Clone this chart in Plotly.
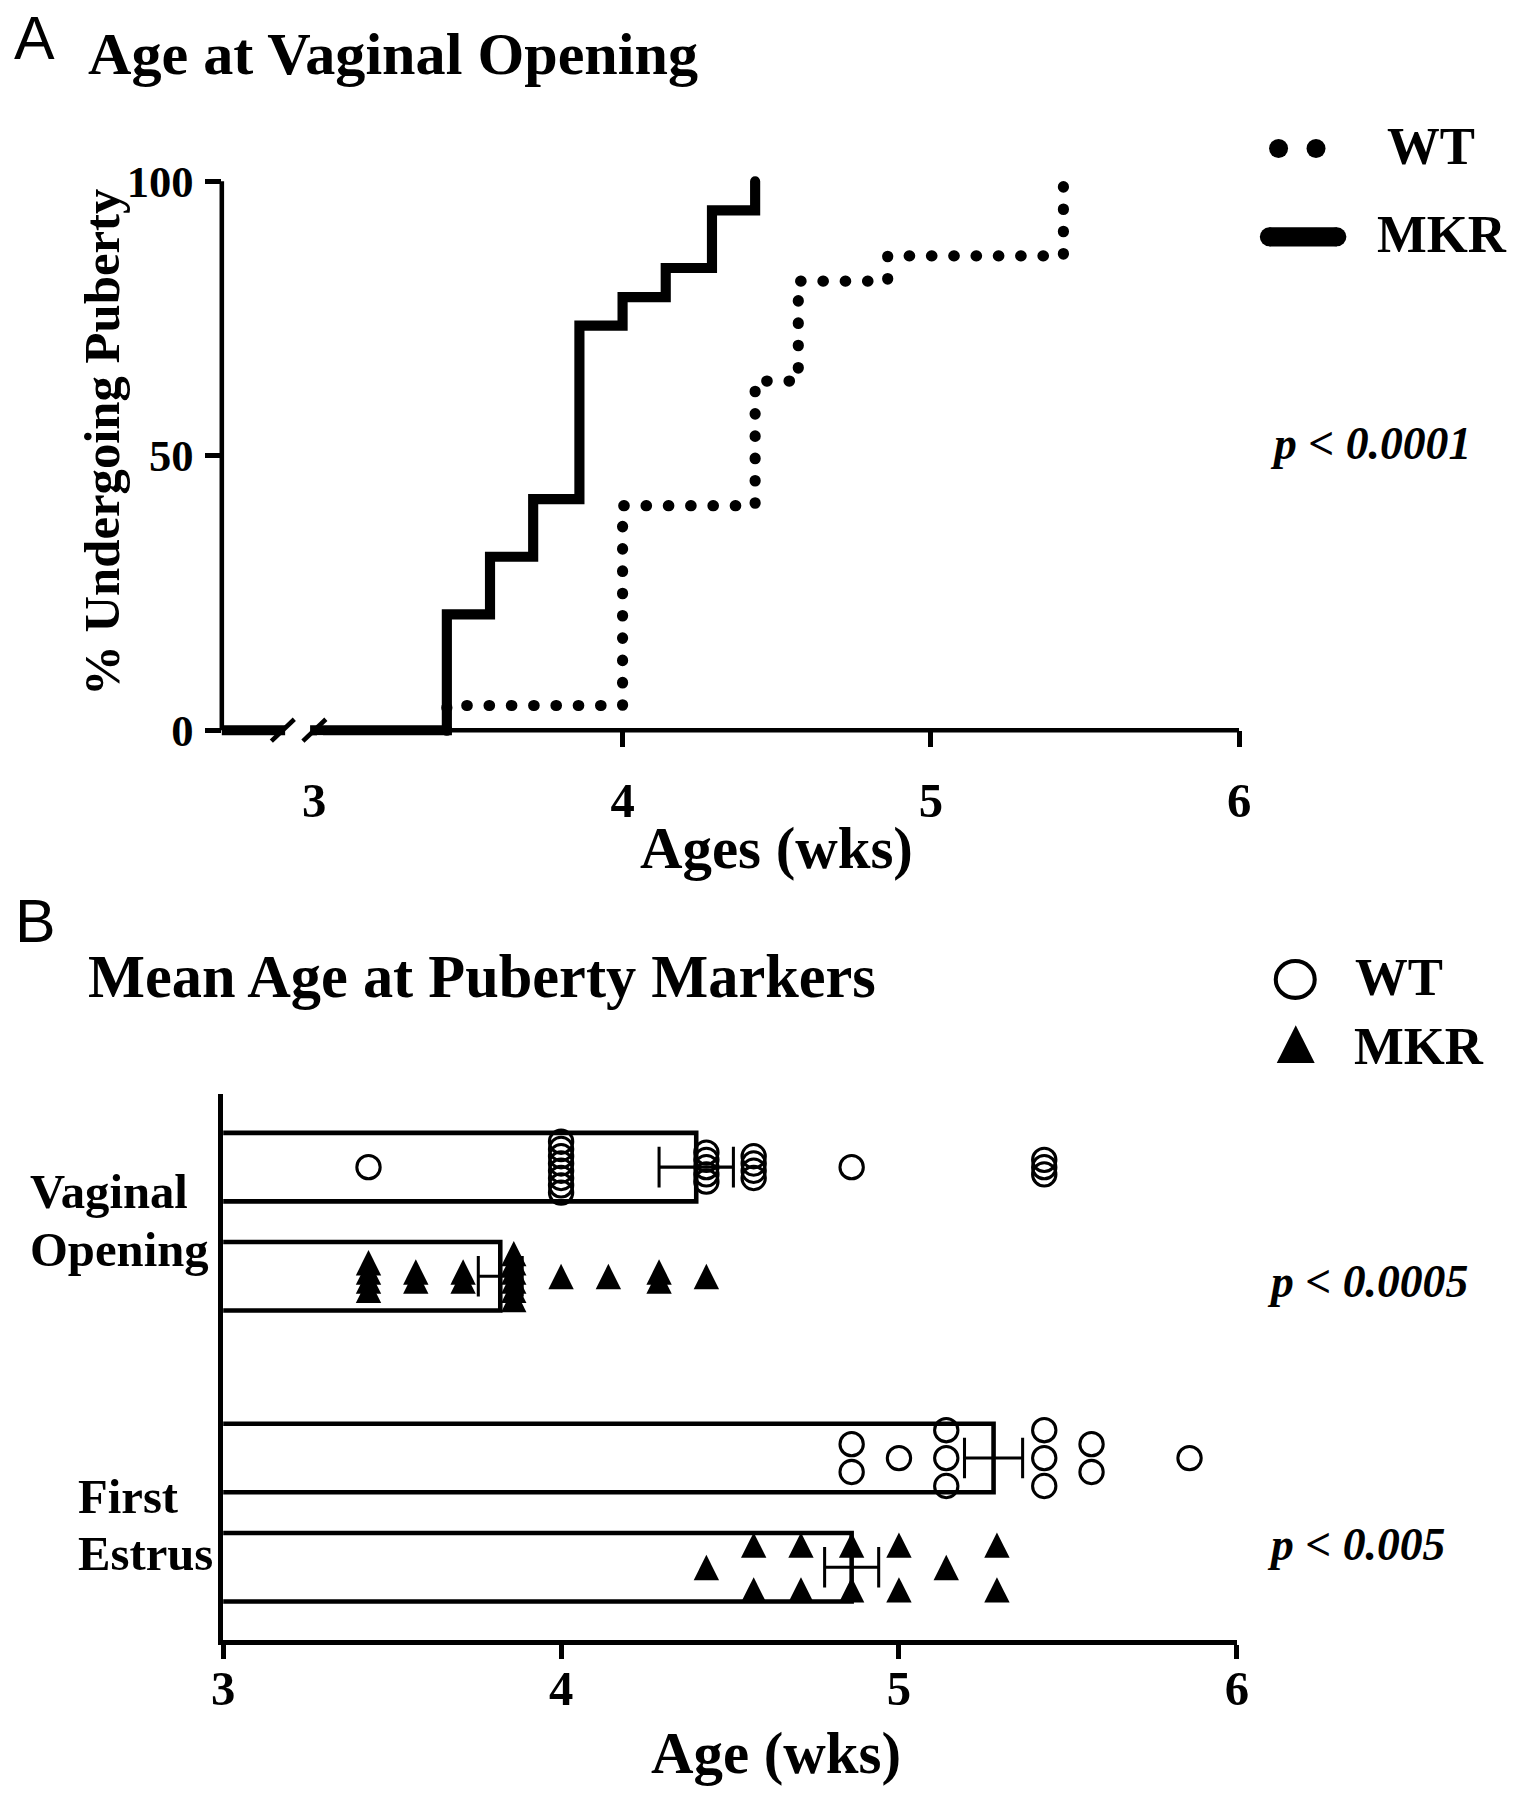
import plotly.graph_objects as go

# ---------------- data ----------------
# Panel A: cumulative % undergoing puberty (vaginal opening), step curves
km_mkr_weeks = [2.7, 3.43, 3.57, 3.71, 3.86, 4.00, 4.14, 4.29, 4.43]
km_mkr_pct = [0, 21.1, 31.6, 42.1, 73.7, 78.9, 84.2, 94.7, 100]
km_wt_weeks = [3.43, 3.43, 4.00, 4.43, 4.57, 4.86, 5.43]
km_wt_pct = [0, 4.5, 40.9, 63.6, 81.8, 86.4, 100]
p_value_a = "p < 0.0001"

# Panel B: individual ages (weeks), bar means and SEM
wt_vo_ages = [3.43, 4.00, 4.00, 4.00, 4.00, 4.00, 4.00, 4.00, 4.00,
              4.43, 4.43, 4.43, 4.43, 4.43, 4.57, 4.57, 4.57, 4.57,
              4.86, 5.43, 5.43, 5.43]
mkr_vo_ages = [3.43, 3.43, 3.43, 3.43, 3.57, 3.57, 3.71, 3.71,
               3.86, 3.86, 3.86, 3.86, 3.86, 3.86, 4.00, 4.14, 4.29, 4.29, 4.43]
wt_fe_ages = [4.86, 4.86, 5.00, 5.14, 5.14, 5.14, 5.43, 5.43, 5.43, 5.57, 5.57, 5.86]
mkr_fe_ages = [4.43, 4.57, 4.57, 4.71, 4.71, 4.86, 4.86, 5.00, 5.00, 5.14, 5.29, 5.29]
wt_means = [4.40, 5.28]      # Vaginal Opening, First Estrus
mkr_means = [3.82, 4.86]
wt_sem = [0.11, 0.086]
mkr_sem = [0.065, 0.08]
p_values_b = ["p < 0.0005", "p < 0.005"]
category_lines = [["Vaginal", "Opening"], ["First", "Estrus"]]
group_names = ["WT", "MKR"]
ticks_a_x = [3, 4, 5, 6]
ticks_a_y = [0, 50, 100]
ticks_b_x = [3, 4, 5, 6]

# ---------------- geometry ----------------
# Positions below are given in picture pixels; the page is shown slightly
# shrunk with a small border, so convert picture pixels to page pixels.
W, H = 1515, 1800
S_IMG, OFF_X, OFF_Y = 0.9855, 10.5, 12.8
K = 1 / S_IMG
SERIF = "Liberation Serif"
SANS = "Liberation Sans"


def page_x(t):
    return (t - OFF_X) / S_IMG


def page_y(t):
    return (t - OFF_Y) / S_IMG


def px(t):
    return page_x(t) / W


def py(t):
    return 1 - page_y(t) / H


# panel A plot area
A_X0, A_X1 = 220.6, 1239.3
A_RANGE_X = [2.7, 6]
A_ZERO, A_HUND = 729.8, 178.7
A_PPU = (page_y(A_ZERO) - page_y(A_HUND)) / 100.0
A_RANGE_Y = [-1.5, 101.5]
A_BOT = page_y(A_ZERO) - A_RANGE_Y[0] * A_PPU
A_TOP = page_y(A_ZERO) - A_RANGE_Y[1] * A_PPU

# panel B plot area
B_X0, B_X1 = 222, 1237
B_BOT, B_TOP = 1643, 1095
B_RANGE_Y = [0, 10]
B_PPU = (page_y(B_BOT) - page_y(B_TOP)) / (B_RANGE_Y[1] - B_RANGE_Y[0])
row_wt = [8.66, 3.33]
row_mkr = [6.66, 1.33]
BAR_W = 1.255

fig = go.Figure()

# ---------------- panel A traces ----------------
fig.add_trace(go.Scatter(
    x=km_wt_weeks, y=km_wt_pct, mode="lines", line_shape="hv",
    line=dict(color="black", width=11 * K, dash="0.5px,21.8px"),
    name="WT", showlegend=False, xaxis="x", yaxis="y", hoverinfo="skip"))
fig.add_trace(go.Scatter(
    x=km_mkr_weeks, y=km_mkr_pct, mode="lines", line_shape="hv",
    line=dict(color="black", width=10 * K),
    name="MKR", showlegend=False, xaxis="x", yaxis="y", hoverinfo="skip"))

# ---------------- panel B traces ----------------
fig.add_trace(go.Bar(
    x=wt_means, y=row_wt, orientation="h", width=BAR_W,
    marker=dict(color="white", line=dict(color="black", width=4.5 * K)),
    error_x=dict(type="data", array=wt_sem, color="black", thickness=3 * K, width=20 * K),
    xaxis="x2", yaxis="y2", showlegend=False, name="WT"))
fig.add_trace(go.Bar(
    x=mkr_means, y=row_mkr, orientation="h", width=BAR_W,
    marker=dict(color="white", line=dict(color="black", width=4.5 * K)),
    error_x=dict(type="data", array=mkr_sem, color="black", thickness=3 * K, width=20 * K),
    xaxis="x2", yaxis="y2", showlegend=False, name="MKR"))


def stack_y(ages, center, spacing_px, shift_px=0.0):
    """Stack repeated values vertically around the bar centre (spacing in picture px)."""
    counts = {}
    for a in ages:
        counts[a] = counts.get(a, 0) + 1
    seen = {}
    ys = []
    for a in ages:
        k = counts[a]
        i = seen.get(a, 0)
        seen[a] = i + 1
        off = (i - (k - 1) / 2.0) * spacing_px * K
        ys.append(center + (off + shift_px) / B_PPU)
    return ys


CIRC = 23 * K
TRI = 25 * K
wt_x = wt_vo_ages + wt_fe_ages
wt_y = stack_y(wt_vo_ages, row_wt[0], 7.3) + stack_y(wt_fe_ages, row_wt[1], 28)
mkr_x = mkr_vo_ages + mkr_fe_ages
mkr_y = (stack_y(mkr_vo_ages, row_mkr[0], 9.2, TRI / 2.0)
         + stack_y(mkr_fe_ages, row_mkr[1], 45, TRI / 2.0))

fig.add_trace(go.Scatter(
    x=wt_x, y=wt_y, mode="markers",
    marker=dict(symbol="circle-open", size=CIRC, color="black",
                line=dict(width=3 * K, color="black")),
    xaxis="x2", yaxis="y2", showlegend=False, name="WT", cliponaxis=False))
fig.add_trace(go.Scatter(
    x=mkr_x, y=mkr_y, mode="markers",
    marker=dict(symbol="arrow-up", size=TRI, color="black", line=dict(width=0)),
    xaxis="x2", yaxis="y2", showlegend=False, name="MKR", cliponaxis=False))

# ---------------- annotations ----------------
ann = []


def text(t, x, baseline, size, family=SERIF, weight="bold", style="normal",
         xanchor="left", k=0.3375):
    ann.append(dict(
        text=t, x=px(x), y=py(baseline - k * size), xref="paper", yref="paper",
        xanchor=xanchor, yanchor="middle", showarrow=False,
        font=dict(family=family, size=size * K, color="black", weight=weight, style=style)))


text("A", 11, 56, 60, family=SANS, weight="normal", k=0.3465)
text("Age at Vaginal Opening", 85, 70, 59.3)
text(group_names[0], 1385, 161, 52)
text(group_names[1], 1375, 249, 52)
text(p_value_a, 1268, 457, 45, style="italic")
ann.append(dict(text="% Undergoing Puberty", x=px(100), y=py(441), xref="paper", yref="paper",
                xanchor="center", yanchor="middle", showarrow=False, textangle=-90,
                font=dict(family=SERIF, size=50 * K, color="black", weight="bold")))
text("Ages (wks)", 776, 868, 58, xanchor="center")

text("B", 11.5, 942, 60, family=SANS, weight="normal", k=0.3465)
text("Mean Age at Puberty Markers", 85, 997, 59.5)
text(group_names[0], 1353, 995, 52)
text(group_names[1], 1352, 1064, 52)
text(p_values_b[0], 1265, 1298, 45, style="italic")
text(p_values_b[1], 1265, 1562, 45, style="italic")
text(category_lines[0][0], 27, 1210, 48)
text(category_lines[0][1], 27, 1268, 48)
text(category_lines[1][0], 75, 1516, 48)
text(category_lines[1][1], 75, 1573, 48)
text("Age (wks)", 776, 1777, 58, xanchor="center")

# ---------------- shapes: axis lines, break, legend glyphs ----------------
shapes = []
AX_W = 4.5 * K
shapes.append(dict(type="line", xref="paper", yref="y", x0=px(A_X0), x1=px(A_X0),
                   y0=0, y1=100, line=dict(color="black", width=AX_W), layer="above"))
shapes.append(dict(type="line", xref="x", yref="y", x0=A_RANGE_X[0], x1=A_RANGE_X[1],
                   y0=0, y1=0, line=dict(color="black", width=AX_W), layer="above"))
# axis break: white gap, hide the tick under the break, two slashes
shapes.append(dict(type="rect", xref="paper", yref="paper", x0=px(284), x1=px(309),
                   y0=py(742), y1=py(718), fillcolor="white", line=dict(width=0), layer="above"))
shapes.append(dict(type="rect", xref="paper", yref="paper", x0=px(305), x1=px(322),
                   y0=py(756), y1=py(735), fillcolor="white", line=dict(width=0), layer="above"))
for cx in (281.7, 313.3):
    shapes.append(dict(type="line", xref="paper", yref="paper",
                       x0=px(cx - 11.5), y0=py(A_ZERO + 11), x1=px(cx + 11.5), y1=py(A_ZERO - 11),
                       line=dict(color="black", width=AX_W), layer="above"))
# legend A: WT dots, MKR thick line
for cx in (1278.8, 1316.3):
    shapes.append(dict(type="circle", xref="paper", yref="paper",
                       x0=px(cx - 9.5), x1=px(cx + 9.5), y0=py(145.8 + 9.5), y1=py(145.8 - 9.5),
                       fillcolor="black", line=dict(width=0)))
shapes.append(dict(type="line", xref="paper", yref="paper", x0=px(1269.5), x1=px(1337.2),
                   y0=py(234.5), y1=py(234.5), line=dict(color="black", width=19 * K)))
for cx in (1269.5, 1337.2):
    shapes.append(dict(type="circle", xref="paper", yref="paper",
                       x0=px(cx - 9.5), x1=px(cx + 9.5), y0=py(234.5 + 9.5), y1=py(234.5 - 9.5),
                       fillcolor="black", line=dict(width=0)))
# legend B: open circle, filled triangle
shapes.append(dict(type="circle", xref="paper", yref="paper",
                   x0=px(1295.5 - 19.5), x1=px(1295.5 + 19.5), y0=py(980 + 18.5), y1=py(980 - 18.5),
                   fillcolor="rgba(0,0,0,0)", line=dict(color="black", width=4 * K)))
shapes.append(dict(type="path", xref="paper", yref="paper",
                   path="M {:.5f},{:.5f} L {:.5f},{:.5f} L {:.5f},{:.5f} Z".format(
                       px(1277), py(1064), px(1315), py(1064), px(1296), py(1026)),
                   fillcolor="black", line=dict(width=0)))

tickfont_x = dict(family=SERIF, size=48 * K, color="black", weight="bold")
tickfont_y = dict(family=SERIF, size=44 * K, color="black", weight="bold")

fig.update_layout(
    width=W, height=H, margin=dict(l=0, r=0, t=0, b=0),
    paper_bgcolor="white", plot_bgcolor="white",
    barmode="overlay", showlegend=False,
    annotations=ann, shapes=shapes,
    xaxis=dict(domain=[px(A_X0), px(A_X1)], range=A_RANGE_X, anchor="free",
               position=py(A_ZERO), showline=False, showgrid=False, zeroline=False,
               tickmode="array", tickvals=ticks_a_x, ticks="outside", ticklen=16 * K,
               tickwidth=AX_W, tickcolor="black", tickfont=tickfont_x, ticklabelstandoff=11),
    yaxis=dict(domain=[1 - A_BOT / H, 1 - A_TOP / H], range=A_RANGE_Y, anchor="x",
               showline=False, showgrid=False, zeroline=False,
               tickmode="array", tickvals=ticks_a_y, ticks="outside", ticklen=16 * K,
               tickwidth=AX_W, tickcolor="black", tickfont=tickfont_y, ticklabelstandoff=2),
    xaxis2=dict(domain=[px(B_X0), px(B_X1)], range=[3, 6], anchor="y2",
                showline=True, linewidth=AX_W, linecolor="black", showgrid=False,
                zeroline=False, tickmode="array", tickvals=ticks_b_x, ticks="outside",
                ticklen=14 * K, tickwidth=AX_W, tickcolor="black", tickfont=tickfont_x,
                ticklabelstandoff=-12),
    yaxis2=dict(domain=[py(B_BOT), py(B_TOP)], range=B_RANGE_Y, anchor="x2",
                showline=True, linewidth=AX_W, linecolor="black", showgrid=False,
                zeroline=False, showticklabels=False, ticks=""),
)

post = """
document.body.style.margin = '0';
var gd = document.getElementById('{plot_id}');
gd.querySelectorAll('.scatterlayer .js-line').forEach(function(p){ p.style.strokeLinecap = 'round'; });
"""
fig.write_html("out.html", post_script=post, config={"displayModeBar": False})
